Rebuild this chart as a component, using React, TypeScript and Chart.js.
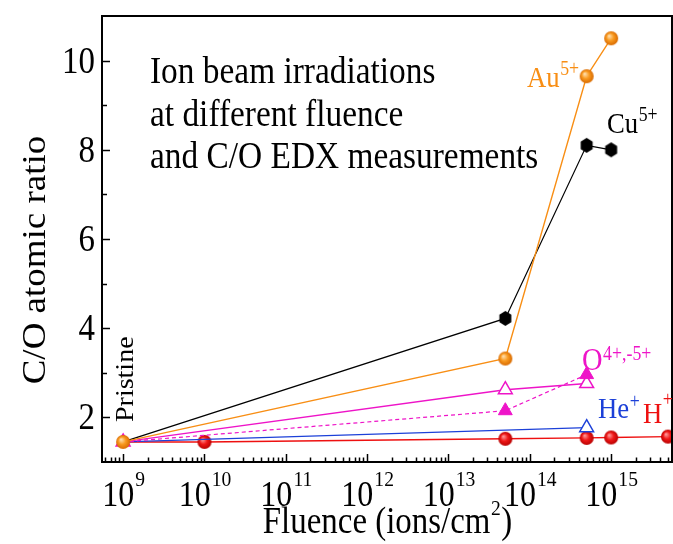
import { useEffect, useRef } from 'react';
import { Chart, registerables } from 'chart.js';

Chart.register(...registerables);

// ---- data ----
const auFluence = [1e9, 5e13, 5e14, 1e15];
const auRatio = [1.45, 3.32, 9.65, 10.5];
const cuFluence = [1e9, 5e13, 5e14, 1e15];
const cuRatio = [1.45, 4.22, 8.1, 8.0];
const oOpenFluence = [1e9, 5e13, 5e14];
const oOpenRatio = [1.45, 2.62, 2.76];
const oFilledFluence = [1e9, 5e13, 5e14];
const oFilledRatio = [1.45, 2.15, 2.96];
const heFluence = [1e9, 5e14];
const heRatio = [1.45, 1.77];
const hFluence = [1e9, 1e10, 5e13, 5e14, 1e15, 5e15];
const hRatio = [1.45, 1.45, 1.52, 1.54, 1.55, 1.57];

// ---- ticks ----
const xMajorExponents = [9, 10, 11, 12, 13, 14, 15];
const xMinorMultipliers = [2, 3, 4, 5, 6, 7, 8, 9];
const yMajorTicks = [2, 4, 6, 8, 10];
const yMinorTicks = [3, 5, 7, 9];

// ---- texts ----
const infoLines = ['Ion beam irradiations', 'at different fluence', 'and C/O EDX measurements'];
const xTitle = ['Fluence (ions/cm', '2', ')'];
const yTitle = 'C/O atomic ratio';

const ORANGE = '#F88E14';
const BLACK = '#000000';
const MAGENTA = '#EE14C8';
const BLUE = '#1C40D8';
const RED = '#EE1010';

const SERIF = '"Liberation Serif", "Times New Roman", Times, serif';
const SX = 0.89;

function makeBall(r: number, light: string, base: string, dark: string) {
  const c = document.createElement('canvas');
  const s = Math.ceil(2 * r + 2);
  c.width = s;
  c.height = s;
  const g = c.getContext('2d')!;
  const cx = s / 2, cy = s / 2;
  const grad = g.createRadialGradient(cx - r * 0.3, cy - r * 0.35, r * 0.05, cx, cy, r);
  grad.addColorStop(0, light);
  grad.addColorStop(0.5, base);
  grad.addColorStop(1, dark);
  g.fillStyle = grad;
  g.beginPath();
  g.arc(cx, cy, r, 0, Math.PI * 2);
  g.fill();
  return c;
}

function makeHexagon(r: number, color: string) {
  const c = document.createElement('canvas');
  const s = Math.ceil(2 * r + 2);
  c.width = s;
  c.height = s;
  const g = c.getContext('2d')!;
  const cx = s / 2, cy = s / 2;
  g.fillStyle = color;
  g.beginPath();
  for (let i = 0; i < 6; i++) {
    const a = -Math.PI / 2 + (i * Math.PI) / 3;
    const px = cx + r * 0.92 * Math.cos(a);
    const py = cy + r * Math.sin(a);
    if (i === 0) g.moveTo(px, py);
    else g.lineTo(px, py);
  }
  g.closePath();
  g.fill();
  return c;
}

function drawText(
  ctx: CanvasRenderingContext2D,
  s: string,
  x: number,
  y: number,
  size: number,
  color: string,
  align: CanvasTextAlign = 'left',
  sx = SX
) {
  ctx.save();
  ctx.font = `${size}px ${SERIF}`;
  ctx.fillStyle = color;
  ctx.textAlign = align;
  ctx.textBaseline = 'alphabetic';
  ctx.translate(x, y);
  ctx.scale(sx, 1);
  ctx.fillText(s, 0, 0);
  const w = ctx.measureText(s).width * sx;
  ctx.restore();
  return w;
}

function measure(ctx: CanvasRenderingContext2D, s: string, size: number, sx = SX) {
  ctx.save();
  ctx.font = `${size}px ${SERIF}`;
  const w = ctx.measureText(s).width * sx;
  ctx.restore();
  return w;
}

function drawRotated(ctx: CanvasRenderingContext2D, s: string, x: number, y: number, size: number, color: string, align: CanvasTextAlign) {
  ctx.save();
  ctx.font = `${size}px ${SERIF}`;
  ctx.fillStyle = color;
  ctx.textAlign = align;
  ctx.textBaseline = 'alphabetic';
  ctx.translate(x, y);
  ctx.rotate(-Math.PI / 2);
  ctx.scale(1, SX);
  ctx.fillText(s, 0, 0);
  ctx.restore();
}

function drawSup(
  ctx: CanvasRenderingContext2D,
  base: string,
  sup: string,
  x: number,
  y: number,
  size: number,
  supSize: number,
  supBaseline: number,
  color: string
) {
  const w = drawText(ctx, base, x, y, size, color);
  drawText(ctx, sup, x + w + 0.5, supBaseline, supSize, color);
}

const decorPlugin = {
  id: 'decor',
  afterDraw(chart: any) {
    const ctx: CanvasRenderingContext2D = chart.ctx;
    const { left, right, top, bottom } = chart.chartArea;
    const xs = chart.scales.x;
    const ys = chart.scales.y;
    ctx.save();

    // frame
    ctx.strokeStyle = '#000';
    ctx.lineWidth = 2;
    ctx.strokeRect(left, top, right - left, bottom - top);

    // x ticks (inward)
    ctx.lineWidth = 1.5;
    const xmin = xs.min, xmax = xs.max;
    for (let e = 8; e <= 15; e++) {
      for (const k of [1, ...xMinorMultipliers]) {
        const v = k * Math.pow(10, e);
        if (v < xmin || v > xmax) continue;
        const px = Math.round(xs.getPixelForValue(v)) + 0.5;
        const len = k === 1 ? 8 : 4.5;
        ctx.beginPath();
        ctx.moveTo(px, bottom);
        ctx.lineTo(px, bottom - len);
        ctx.stroke();
      }
    }
    // y ticks (inward)
    for (const v of yMajorTicks) {
      const py = Math.round(ys.getPixelForValue(v)) + 0.5;
      ctx.beginPath();
      ctx.moveTo(left, py);
      ctx.lineTo(left + 8, py);
      ctx.stroke();
    }
    for (const v of yMinorTicks) {
      const py = Math.round(ys.getPixelForValue(v)) + 0.5;
      ctx.beginPath();
      ctx.moveTo(left, py);
      ctx.lineTo(left + 5, py);
      ctx.stroke();
    }

    // y tick labels
    for (const v of yMajorTicks) {
      const py = ys.getPixelForValue(v);
      drawText(ctx, String(v), left - 7, py + 12, 37, BLACK, 'right');
    }

    // x tick labels 10^n
    for (const e of xMajorExponents) {
      const px = xs.getPixelForValue(Math.pow(10, e));
      const w10 = measure(ctx, '10', 36);
      const we = measure(ctx, String(e), 22);
      const start = px - (w10 + we) / 2;
      drawText(ctx, '10', start, 506, 36, BLACK);
      drawText(ctx, String(e), start + w10 + 1, 486, 22, BLACK);
    }

    // x title
    {
      const wa = measure(ctx, xTitle[0], 37);
      const wb = measure(ctx, xTitle[1], 22);
      const wc = measure(ctx, xTitle[2], 37);
      const cx = (left + right) / 2;
      const x0 = cx - (wa + wb + wc) / 2;
      drawText(ctx, xTitle[0], x0, 533, 37, BLACK);
      drawText(ctx, xTitle[1], x0 + wa + 0.5, 515, 22, BLACK);
      drawText(ctx, xTitle[2], x0 + wa + wb + 1, 533, 37, BLACK);
    }

    // y title
    drawRotated(ctx, yTitle, 45, 260, 37, BLACK, 'center');

    // info text
    const baselines = [83, 125.5, 168];
    infoLines.forEach((s, i) => drawText(ctx, s, 150, baselines[i], 37.5, BLACK));

    // series labels
    drawSup(ctx, 'Au', '5+', 527, 87, 30, 20, 75, ORANGE);
    drawSup(ctx, 'Cu', '5+', 607, 133, 30, 20, 121, BLACK);
    drawSup(ctx, 'O', '4+,-5+', 582, 370, 32, 20, 360, MAGENTA);
    drawSup(ctx, 'He', '+', 598, 418, 30, 20, 408, BLUE);
    drawSup(ctx, 'H', '+', 643, 423, 30, 20, 406, RED);

    // Pristine
    drawRotated(ctx, 'Pristine', 133, 422, 28, BLACK, 'left');

    ctx.restore();
  },
};

function pts(xsArr: number[], ysArr: number[]) {
  return xsArr.map((x, i) => ({ x, y: ysArr[i] }));
}

export default function App() {
  const ref = useRef<HTMLCanvasElement>(null);
  useEffect(() => {
    const auBall = makeBall(7, '#FFE0B0', '#F99A20', '#D86A00');
    const hBall = makeBall(7, '#FF9A9A', '#F01818', '#B80000');
    const cuHex = makeHexagon(7.5, BLACK);
    const hideFirst = (r: number) => (c: any) => (c.dataIndex === 0 ? 0 : r);

    const chart = new Chart(ref.current!, {
      type: 'line',
      data: {
        datasets: [
          {
            label: 'Au5+',
            data: pts(auFluence, auRatio),
            borderColor: ORANGE,
            borderWidth: 1.4,
            pointStyle: auBall as any,
            pointRadius: 7,
            order: 0,
          },
          {
            label: 'Cu5+',
            data: pts(cuFluence, cuRatio),
            borderColor: BLACK,
            borderWidth: 1.2,
            pointStyle: cuHex as any,
            pointRadius: hideFirst(7) as any,
            order: 1,
          },
          {
            label: 'O open',
            data: pts(oOpenFluence, oOpenRatio),
            borderColor: MAGENTA,
            backgroundColor: '#FFFFFF',
            borderWidth: 1.3,
            pointStyle: 'triangle',
            pointRadius: 8,
            pointBorderWidth: 1.5,
            order: 3,
          },
          {
            label: 'O filled',
            data: pts(oFilledFluence, oFilledRatio),
            borderColor: MAGENTA,
            backgroundColor: MAGENTA,
            borderWidth: 1.2,
            borderDash: [4, 3],
            pointStyle: 'triangle',
            pointRadius: hideFirst(8) as any,
            pointBorderWidth: 1,
            order: 2,
          },
          {
            label: 'He+',
            data: pts(heFluence, heRatio),
            borderColor: BLUE,
            backgroundColor: '#FFFFFF',
            borderWidth: 1.3,
            pointStyle: 'triangle',
            pointRadius: hideFirst(8) as any,
            pointBorderWidth: 1.5,
            order: 4,
          },
          {
            label: 'H+',
            data: pts(hFluence, hRatio),
            borderColor: RED,
            borderWidth: 1.4,
            pointStyle: hBall as any,
            pointRadius: hideFirst(7) as any,
            order: 5,
          },
        ],
      },
      options: {
        responsive: false,
        animation: false,
        devicePixelRatio: 1,
        layout: { autoPadding: false, padding: { left: 102, top: 16, right: 1, bottom: 82 } },
        plugins: { legend: { display: false }, tooltip: { enabled: false } },
        elements: { line: { tension: 0 } },
        scales: {
          x: { type: 'logarithmic', min: 5.5e8, max: 5.6e15, display: false },
          y: { type: 'linear', min: 1, max: 11, display: false },
        },
      },
      plugins: [decorPlugin],
    });
    return () => chart.destroy();
  }, []);

  return (
    <div style={{ position: 'fixed', left: 0, top: 0, width: 673, height: 544, background: '#fff' }}>
      <canvas ref={ref} width={673} height={544} style={{ display: 'block', width: 673, height: 544 }} />
    </div>
  );
}
